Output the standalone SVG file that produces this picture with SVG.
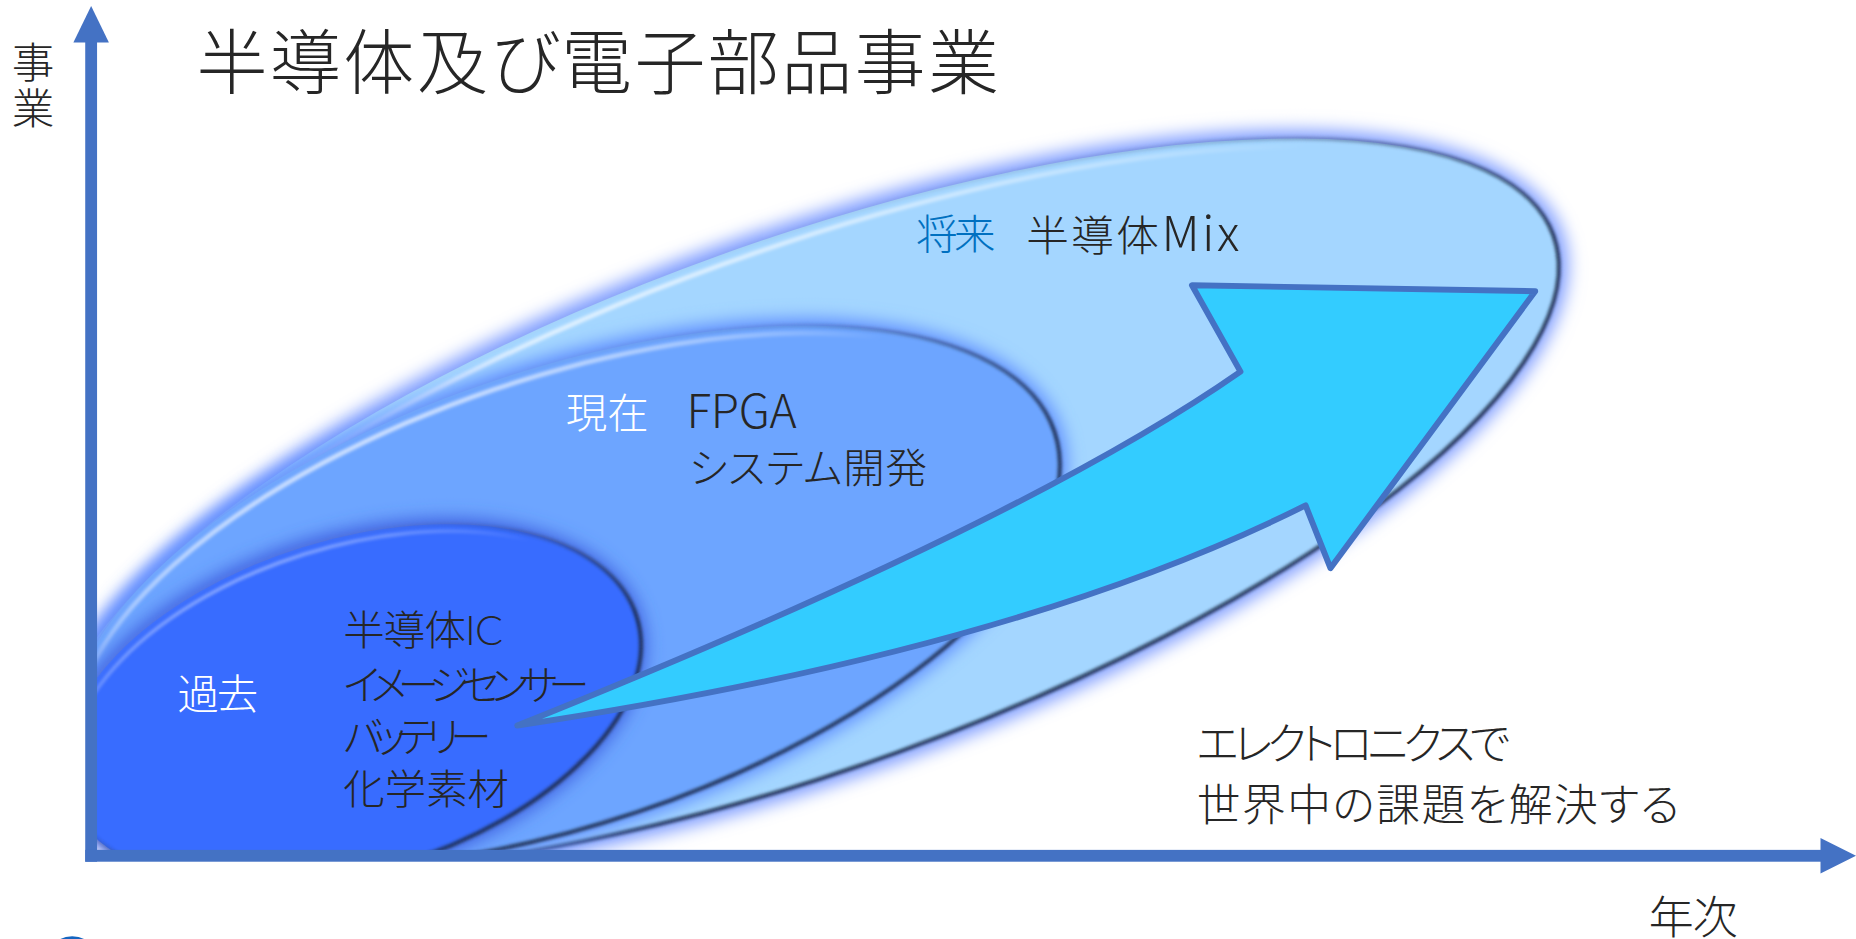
<svg xmlns="http://www.w3.org/2000/svg" width="1856" height="939" viewBox="0 0 1856 939">
<style>
.t{font-family:"Noto Sans CJK JP","Noto Sans",sans-serif;font-weight:300;fill:#262626;font-feature-settings:"palt"}
.c{font-family:"Lato","Noto Sans CJK JP",sans-serif}
.w{fill:#ffffff}
.b{fill:#0070C0}
.ax{fill:#4472C4}
.glow{filter:url(#glow)}
</style>
<defs>
<clipPath id="quad"><rect x="77" y="0" width="1491" height="723"/></clipPath>
<filter id="glow" x="-20%" y="-50%" width="140%" height="200%"><feGaussianBlur stdDeviation="7"/></filter>
<filter id="soft" x="-10%" y="-30%" width="120%" height="160%"><feGaussianBlur stdDeviation="1.3"/></filter>
<linearGradient id="edge" x1="0" y1="0" x2="0.7" y2="1">
<stop offset="0" stop-color="#ffffff" stop-opacity="0"/>
<stop offset="0.45" stop-color="#2a3c66" stop-opacity="0.2"/>
<stop offset="0.8" stop-color="#1b2a48" stop-opacity="0.85"/>
<stop offset="1" stop-color="#1b2a48" stop-opacity="0.85"/>
</linearGradient>
<linearGradient id="hl" x1="0" y1="0" x2="0.3" y2="1">
<stop offset="0" stop-color="#ffffff" stop-opacity="0.9"/>
<stop offset="0.4" stop-color="#ffffff" stop-opacity="0"/>
</linearGradient>
</defs>
<rect width="1856" height="939" fill="#ffffff"/>
<g transform="scale(1.18367)">
<g id="future" clip-path="url(#quad)">
<g transform="translate(682 426) rotate(-19.8)">
<ellipse rx="678" ry="231" fill="#7D9BFF" class="glow"/>
<ellipse rx="670" ry="223" fill="#A4D6FF"/>
<ellipse rx="670" ry="223" fill="none" stroke="url(#edge)" stroke-width="3.5" filter="url(#soft)"/>
<ellipse rx="662" ry="215" fill="none" stroke="url(#hl)" stroke-width="4" filter="url(#soft)"/>
</g>
</g>
<g id="present" clip-path="url(#quad)">
<g transform="translate(476.7 504.2) rotate(-18.6)">
<ellipse rx="443" ry="198" fill="#5C8BFF" class="glow"/>
<ellipse rx="437" ry="192" fill="#6DA5FF"/>
<ellipse rx="437" ry="192" fill="none" stroke="url(#edge)" stroke-width="3.5" filter="url(#soft)"/>
<ellipse rx="430" ry="185" fill="none" stroke="url(#hl)" stroke-width="4" filter="url(#soft)"/>
</g>
</g>
<g id="past" clip-path="url(#quad)">
<g transform="translate(297.3 596) rotate(-17.2)">
<ellipse rx="256" ry="145" fill="#3C5FE0" class="glow"/>
<ellipse rx="252" ry="140" fill="#386CFF"/>
<ellipse rx="252" ry="140" fill="none" stroke="url(#edge)" stroke-width="3.5" filter="url(#soft)"/>
<ellipse rx="246" ry="134" fill="none" stroke="url(#hl)" stroke-width="3" opacity="0.6" filter="url(#soft)"/>
</g>
</g>
<g id="axes">
<rect class="ax" x="72" y="33" width="10" height="695"/>
<polygon class="ax" points="77,5 62,36 92,36"/>
<rect class="ax" x="72" y="718" width="1468" height="10"/>
<polygon class="ax" points="1568,723 1538,708 1538,738"/>
</g>
<g id="growth-arrow">
<path d="M437,613 Q866,441 1048,314 L1007,241 L1297,246 L1124,480 L1103,427 Q857,550 437,613 Z" fill="#33CCFF" stroke="#4472C4" stroke-width="5" stroke-linejoin="round"/>
</g>
<g id="title">
<text class="t" x="166" y="74" font-size="60" textLength="678" lengthAdjust="spacing">半導体及び電子部品事業</text>
</g>
<g id="axis-labels">
<text class="t" x="28" y="34" font-size="36" writing-mode="vertical-rl" letter-spacing="3">事業</text>
<text class="t" x="1393" y="789" font-size="38" textLength="75" lengthAdjust="spacing">年次</text>
</g>
<g id="future-label">
<text class="t b" x="774" y="210" font-size="35" textLength="67" lengthAdjust="spacing">将来</text>
<text class="t" x="867" y="212" font-size="36" textLength="180" lengthAdjust="spacing">半導体<tspan font-size="41">Mix</tspan></text>
</g>
<g id="present-label">
<text class="t w" x="478" y="362" font-size="35" textLength="70" lengthAdjust="spacing">現在</text>
<text class="t" x="580" y="362" font-size="39" textLength="93" lengthAdjust="spacing">FPGA</text>
<text class="t" x="582" y="408" font-size="35" textLength="201" lengthAdjust="spacing">システム開発</text>
</g>
<g id="past-label">
<text class="t w" x="150" y="599" font-size="35" textLength="68" lengthAdjust="spacing">過去</text>
<text class="t c" x="290" y="545" font-size="35" textLength="135" lengthAdjust="spacing">半導体IC</text>
<text class="t c" x="290" y="591" font-size="35" textLength="208" lengthAdjust="spacing">イメージセンサー</text>
<text class="t c" x="290" y="635" font-size="35" textLength="125" lengthAdjust="spacing">バッテリー</text>
<text class="t c" x="290" y="679" font-size="35" textLength="140" lengthAdjust="spacing">化学素材</text>
</g>
<g id="message">
<text class="t" x="1011" y="642" font-size="37" textLength="265" lengthAdjust="spacing">エレクトロニクスで</text>
<text class="t" x="1011" y="694" font-size="37" textLength="408" lengthAdjust="spacing">世界中の課題を解決する</text>
</g>
<ellipse id="logo-fragment" cx="61" cy="800" rx="15" ry="9" fill="#1565C0"/>
</g>
</svg>
